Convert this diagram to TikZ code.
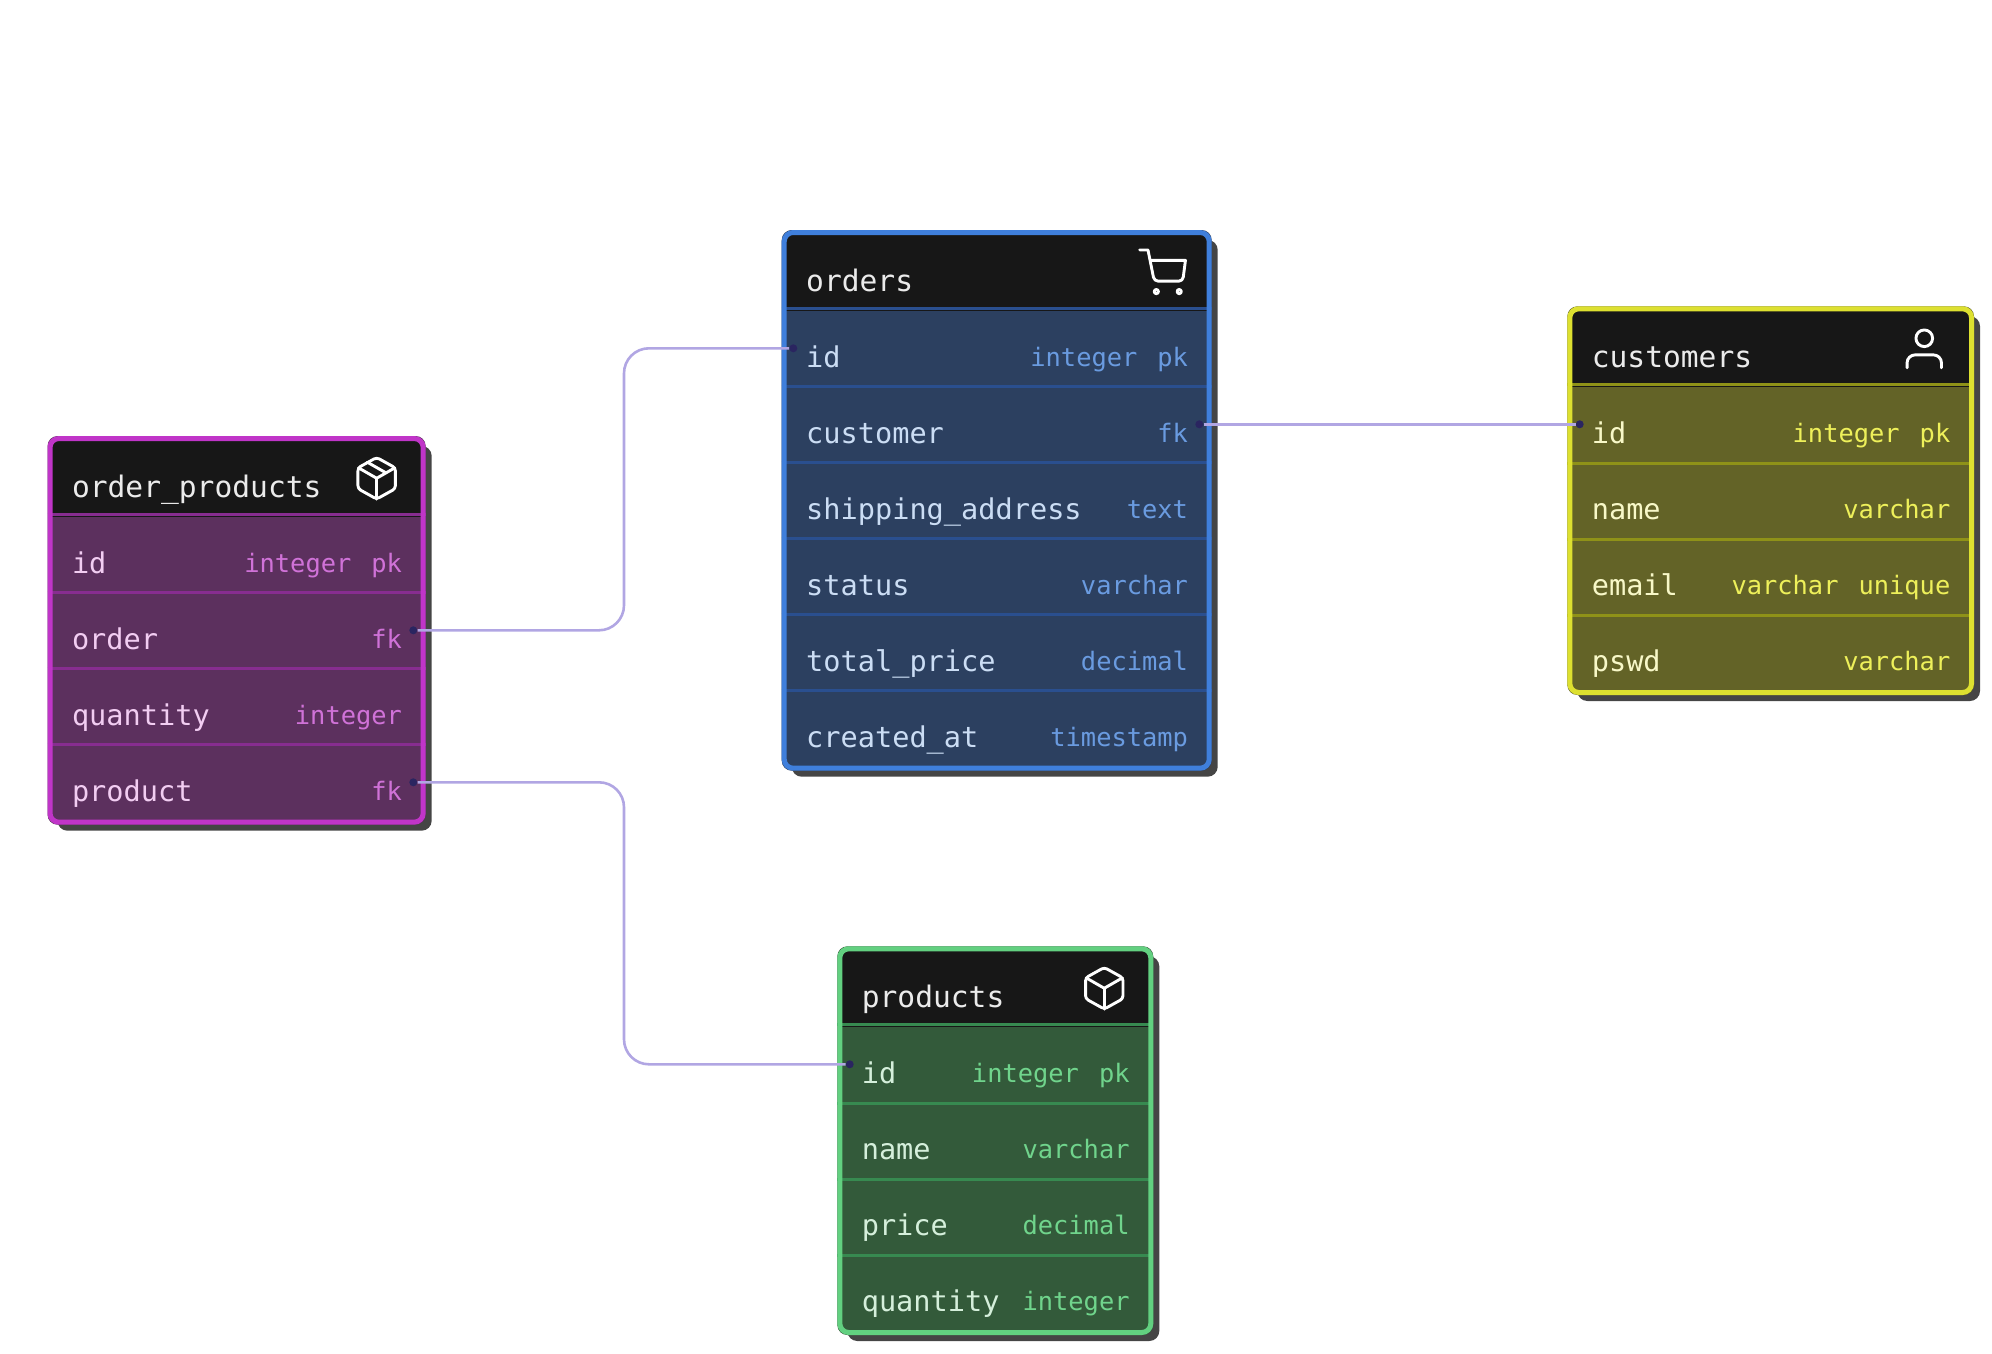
\documentclass[tikz,border=0pt]{standalone}
\usepackage{fontspec}
\setmonofont{DejaVu Sans Mono}

\definecolor{pinkedge}{HTML}{C035C8}
\definecolor{pinkfill}{HTML}{5C305E}
\definecolor{pinkline}{HTML}{872D90}
\definecolor{pinkkey}{HTML}{F2CDF2}
\definecolor{pinktype}{HTML}{D072D8}
\definecolor{blueedge}{HTML}{3F7FDC}
\definecolor{bluefill}{HTML}{2C4060}
\definecolor{blueline}{HTML}{2A4F8F}
\definecolor{bluekey}{HTML}{CBDDF4}
\definecolor{bluetype}{HTML}{6A9BE0}
\definecolor{yellowedge}{HTML}{DDE030}
\definecolor{yellowfill}{HTML}{636327}
\definecolor{yellowline}{HTML}{8F9218}
\definecolor{yellowkey}{HTML}{F8F8C8}
\definecolor{yellowtype}{HTML}{EEF05A}
\definecolor{greenedge}{HTML}{62D080}
\definecolor{greenfill}{HTML}{335A3A}
\definecolor{greenline}{HTML}{378A50}
\definecolor{greenkey}{HTML}{D5EFDB}
\definecolor{greentype}{HTML}{70D48C}
\definecolor{relcolor}{HTML}{B1A6E3}
\definecolor{dotcolor}{HTML}{2A2560}

\tikzset{
    titletext/.style={anchor=base west,inner sep=0pt,text=black!8,font=\ttfamily\fontsize{29.6}{32}\selectfont},
    keytext/.style={anchor=base west,inner sep=0pt,font=\ttfamily\fontsize{28.6}{32}\selectfont},
    typetext/.style={anchor=base east,inner sep=0pt,font=\ttfamily\fontsize{25.4}{28}\selectfont},
    portdot/.style={circle,fill=dotcolor,inner sep=0pt,minimum size=8pt},
    relline/.style={draw=relcolor,line width=2.6pt,rounded corners=25pt},
    iconline/.style={draw=white,line width=2.9pt,line join=round,line cap=round,x=2.08pt,y=-2.08pt},
    pics/hexbox/.style={code={
        \draw[iconline,rounded corners=3pt] (12,2) -- (21,7) -- (21,17) -- (12,22) -- (3,17) -- (3,7) -- cycle;
        \draw[iconline] (3.3,7) -- (12,12) -- (20.7,7);
        \draw[iconline] (12,22) -- (12,12);
    }}
}

% left, top, right (outer edges), rows, colour, name, title, row texts
\newcommand{\dbtable}[8]{
    \pgfmathsetmacro{\bot}{#2+156.7+76*(#4-2)+80}
    % draw shadow and body
    \fill[black!73,rounded corners=10pt] ({#1+10},{#2+10}) rectangle ({#3+6},{\bot+6});
    \fill[#5fill,rounded corners=10pt] (#1,#2) rectangle (#3,\bot);
    % draw header
    \fill[black!91,rounded corners=7pt] ({#1+2},{#2+2}) rectangle ({#3-2},{#2+30});
    \fill[black!91] ({#1+2},{#2+15}) rectangle ({#3-2},{#2+80.7});
    \draw[#5line,line width=2.6pt] (#1,{#2+78.3}) -- (#3,{#2+78.3});
    % draw row lines
    \foreach \k in {2,...,#4}
        \draw[#5line,line width=3pt] (#1,{#2+156.7+76*(\k-2)}) -- (#3,{#2+156.7+76*(\k-2)});
    % draw edge
    \draw[#5edge,line width=5pt,rounded corners=9pt] ({#1+2.5},{#2+2.5}) rectangle ({#3-2.5},{\bot-2.5});
    % draw nodes
    \node[titletext] (#6-title) at ({#1+24.3},{#2+61}) {#7};
    \foreach \a/\b [count=\i from 0] in {#8} {
        \node[keytext,text=#5key] (#6-key\i) at ({#1+24.3},{#2+137+76*\i}) {\a};
        \node[typetext,text=#5type] (#6-type\i) at ({#3-23.5},{#2+136.5+76*\i}) {\b};
    }
}

\begin{document}
\begin{tikzpicture}[x=1pt,y=-1pt]
    \useasboundingbox (0,0) rectangle (1992,1354);

    % draw tables
    \dbtable{47.5}{436}{425.7}{4}{pink}{ordprod}{order\_products}{id/integer\hspace{20pt}pk,order/fk,quantity/integer,product/fk}
    \dbtable{781.7}{230}{1211.7}{6}{blue}{orders}{orders}{id/integer\hspace{20pt}pk,customer/fk,shipping\_address/text,status/varchar,total\_price/decimal,created\_at/timestamp}
    \dbtable{1567.3}{306.3}{1974}{4}{yellow}{customers}{customers}{id/integer\hspace{20pt}pk,name/varchar,email/varchar\hspace{20pt}unique,pswd/varchar}
    \dbtable{837.3}{946.3}{1153.3}{4}{green}{products}{products}{id/integer\hspace{20pt}pk,name/varchar,price/decimal,quantity/integer}

    % draw icons
    \pic at (351.7,453.3) {hexbox};
    \draw[iconline,rounded corners=3pt,shift={(351.7pt,-453.3pt)}] (7.5,4.27) -- (16.5,9.42);
    \pic at (1079.3,963.3) {hexbox};
    \begin{scope}[shift={(1137.6pt,-247.9pt)}]
        \draw[iconline] (1,1) -- (5,1) [rounded corners=4pt] -- (8,16) -- (21.7,16) [sharp corners] -- (23,6) -- (6,6);
        \draw[iconline] (9,21) circle[radius=1];
        \draw[iconline] (20,21) circle[radius=1];
    \end{scope}
    \begin{scope}[shift={(1899.3pt,-323.7pt)}]
        \draw[iconline] (12,7) circle[radius=4];
        \draw[iconline] (3.73,21.2) [rounded corners=8pt] -- (3.73,15) -- (20.27,15) [sharp corners] -- (20.27,21.2);
    \end{scope}

    % draw ports
    \node[portdot] (port-order) at (413.3,630.3) {};
    \node[portdot] (port-product) at (413.3,782.3) {};
    \node[portdot] (port-orderid) at (793.3,348.3) {};
    \node[portdot] (port-customer) at (1199.3,424.3) {};
    \node[portdot] (port-customerid) at (1579.7,424.3) {};
    \node[portdot] (port-productid) at (849.7,1064.3) {};
    \coordinate (bend-up) at (624,489);
    \coordinate (bend-down) at (624,923);

    % draw relations
    \draw[relline] (port-order) -| (bend-up) |- (port-orderid);
    \draw[relline] (port-product) -| (bend-down) |- (port-productid);
    \draw[relline] (port-customer) -- (port-customerid);
\end{tikzpicture}
\end{document}
